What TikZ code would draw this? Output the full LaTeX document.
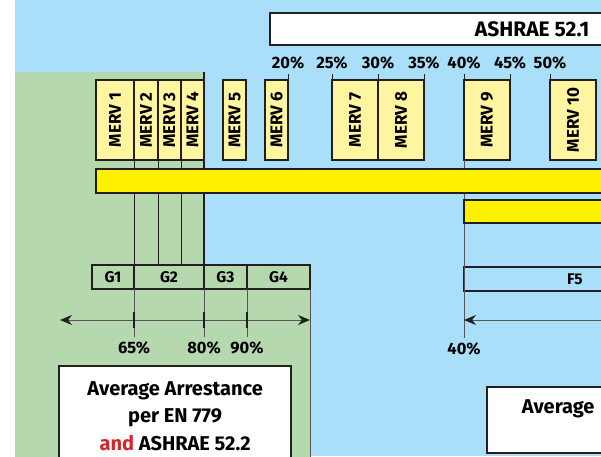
\documentclass[tikz,border=0pt]{standalone}
\usepackage{fontspec}
\setmainfont{Fira Sans}
\usepackage{graphicx}
\usepackage{tikz}
\usetikzlibrary{positioning}
\usetikzlibrary{arrows.meta}
\definecolor{skyblue}{RGB}{170,223,250}
\definecolor{sage}{RGB}{182,216,175}
\definecolor{mervyellow}{RGB}{255,245,160}
\definecolor{baryellow}{RGB}{255,242,0}
\definecolor{ink}{RGB}{35,31,32}
\definecolor{wire}{RGB}{85,85,85}
\definecolor{redtext}{RGB}{215,35,42}

\begin{document}
\begin{tikzpicture}[
            x = 1pt, y = -1pt, % pixel grid, y pointing down
            > = {Stealth[length=12pt, width=10pt, color=ink]}, % arrow head style
            font = \bfseries
        ]

        \tikzstyle{merv}=[
            draw = ink,
            line width = 2.2pt,
            fill = mervyellow,
            minimum height = 80pt,
            inner sep = 0pt,
            outer sep = 0pt,
            font = \bfseries\fontsize{17}{17}\selectfont
        ]
        \tikzstyle{gbox}=[
            draw = ink,
            line width = 2.2pt,
            fill = sage,
            minimum height = 24pt,
            inner sep = 0pt,
            outer sep = 0pt,
            font = \bfseries\fontsize{15.5}{16}\selectfont
        ]
        \tikzstyle{infobox}=[
            draw = ink,
            line width = 2.2pt,
            fill = white,
            align = center,
            inner sep = 0pt,
            font = \bfseries\fontsize{20}{27.5}\selectfont
        ]
        \tikzstyle{pct}=[inner sep = 0pt, outer ysep = 5pt, font = \bfseries\fontsize{16.5}{17}\selectfont]
        \tikzstyle{tick}=[draw = ink, line width = 0.9pt]
        \tikzstyle{wireline}=[draw = wire, line width = 0.8pt]
        \tikzstyle{axtick}=[draw = ink, line width = 2pt]
        \tikzstyle{bar}=[draw = ink, line width = 2.2pt, fill = baryellow]

        \useasboundingbox (0,0) rectangle (601,456);
        \clip (0,0) rectangle (601,456);

        % background
        \fill[white] (0,0) rectangle (15,456);
        \fill[skyblue] (15,0) rectangle (601,456);
        \fill[sage] (15,72) -- (204,72) -- (204,265) -- (310,265) -- (310,460) -- (15,460) -- cycle;

        % ASHRAE 52.1 scale
        \node[infobox, font = \bfseries\fontsize{21}{21}\selectfont, anchor = north west, minimum width = 524pt, minimum height = 32pt] (ashrae) at (269,12) {ASHRAE 52.1};

        % MERV classes
        \node[merv, minimum width = 38pt, anchor = north west] (m1) at (96,80) {\rotatebox{90}{MERV 1}};
        \node[merv, minimum width = 24pt] (m2) [right = 0pt of m1] {\rotatebox{90}{MERV 2}};
        \node[merv, minimum width = 23pt] (m3) [right = 0pt of m2] {\rotatebox{90}{MERV 3}};
        \node[merv, minimum width = 23pt] (m4) [right = 0pt of m3] {\rotatebox{90}{MERV 4}};
        \node[merv, minimum width = 23pt, anchor = north west] (m5) at (223,80) {\rotatebox{90}{MERV 5}};
        \node[merv, minimum width = 23pt, anchor = north west] (m6) at (265,80) {\rotatebox{90}{MERV 6}};
        \node[merv, minimum width = 46pt, anchor = north west] (m7) at (332,80) {\rotatebox{90}{MERV 7}};
        \node[merv, minimum width = 46pt] (m8) [right = 0pt of m7] {\rotatebox{90}{MERV 8}};
        \node[merv, minimum width = 46pt, anchor = north west] (m9) at (464,80) {\rotatebox{90}{MERV 9}};
        \node[merv, minimum width = 46pt, anchor = north west] (m10) at (550,80) {\rotatebox{90}{MERV 10}};

        % dust spot efficiency
        \node[pct] (p20) [above = 6pt of m6.north east] {20\%};
        \node[pct] (p25) [above = 6pt of m7.north west] {25\%};
        \node[pct] (p30) [above = 6pt of m7.north east] {30\%};
        \node[pct] (p35) [above = 6pt of m8.north east] {35\%};
        \node[pct] (p40t) [above = 6pt of m9.north west] {40\%};
        \node[pct] (p45) [above = 6pt of m9.north east] {45\%};
        \node[pct] (p50) [above = 6pt of m10.north west] {50\%};

        \draw[tick] (p20.south) -- (m6.north east);
        \draw[tick] (p25.south) -- (m7.north west);
        \draw[tick] (p30.south) -- (m7.north east);
        \draw[tick] (p35.south) -- (m8.north east);
        \draw[tick] (p40t.south) -- (m9.north west);
        \draw[tick] (p45.south) -- (m9.north east);
        \draw[tick] (p50.south) -- (m10.north west);

        % EN 779 classes
        \node[gbox, minimum width = 42pt, anchor = north west] (g1) at (92,265) {G1};
        \node[gbox, minimum width = 70pt] (g2) [right = 0pt of g1] {G2};
        \node[gbox, minimum width = 43pt] (g3) [right = 0pt of g2] {G3};
        \node[gbox, minimum width = 63pt] (g4) [right = 0pt of g3] {G4};
        \node[gbox, minimum width = 222pt, fill = none, anchor = north west] (f5) at (464,267) {F5};

        % arrestance
        \node[pct] (p65) [below = 48pt of g1.south east] {65\%};
        \node[pct] (p80) [below = 48pt of g3.south west] {80\%};
        \node[pct] (p90) [below = 48pt of g4.south west] {90\%};
        \node[pct] (p40) [below = 47pt of f5.south west] {40\%};

        \coordinate (gtop) at (204,72);
        \coordinate (gbot) at (310,460);
        \coordinate (axl) at (60,320);
        \coordinate (axr) at (310,320);
        \coordinate (axr2) at (620,320);

        \draw[tick] (m1.south east) -- (g1.north east);
        \draw[tick] (m2.south east) -- (m2.south east |- g2.north);
        \draw[tick] (m3.south east) -- (m3.south east |- g2.north);
        \draw[tick, line width = 1.6pt] (gtop) -- (g3.north west);
        \draw[wireline] (m9.south west) -- (p40.north);
        \draw[wireline] (g4.south east) -- (gbot);

        \draw[wireline] (g1.south east) -- (p65.north);
        \draw[wireline] (g3.south west) -- (p80.north);
        \draw[wireline] (g4.south west) -- (p90.north);

        \draw[wireline, <->] (axl) -- (axr);
        \draw[wireline, ->] (axr2) -- (p40.north |- axr2);
        \draw[axtick] (p65.north |- axl) +(0pt,8pt) -- +(0pt,-8pt);
        \draw[axtick] (p80.north |- axl) +(0pt,8pt) -- +(0pt,-8pt);
        \draw[axtick] (p90.north |- axl) +(0pt,8pt) -- +(0pt,-8pt);

        % yellow bars
        \draw[bar] (96,169) rectangle (620,193);
        \draw[bar] (464,200) rectangle (620,223);

        % captions
        \node[infobox, anchor = north west, minimum width = 232pt, minimum height = 100pt] (arrest) at (58,365)
            {Average Arrestance\\per EN 779\\\textcolor{redtext}{and} ASHRAE 52.2};
        \node[infobox, anchor = north west, minimum width = 142pt, minimum height = 66pt] (avg) at (486,386)
            {Average\\\mbox{}};

  \end{tikzpicture}
\end{document}
